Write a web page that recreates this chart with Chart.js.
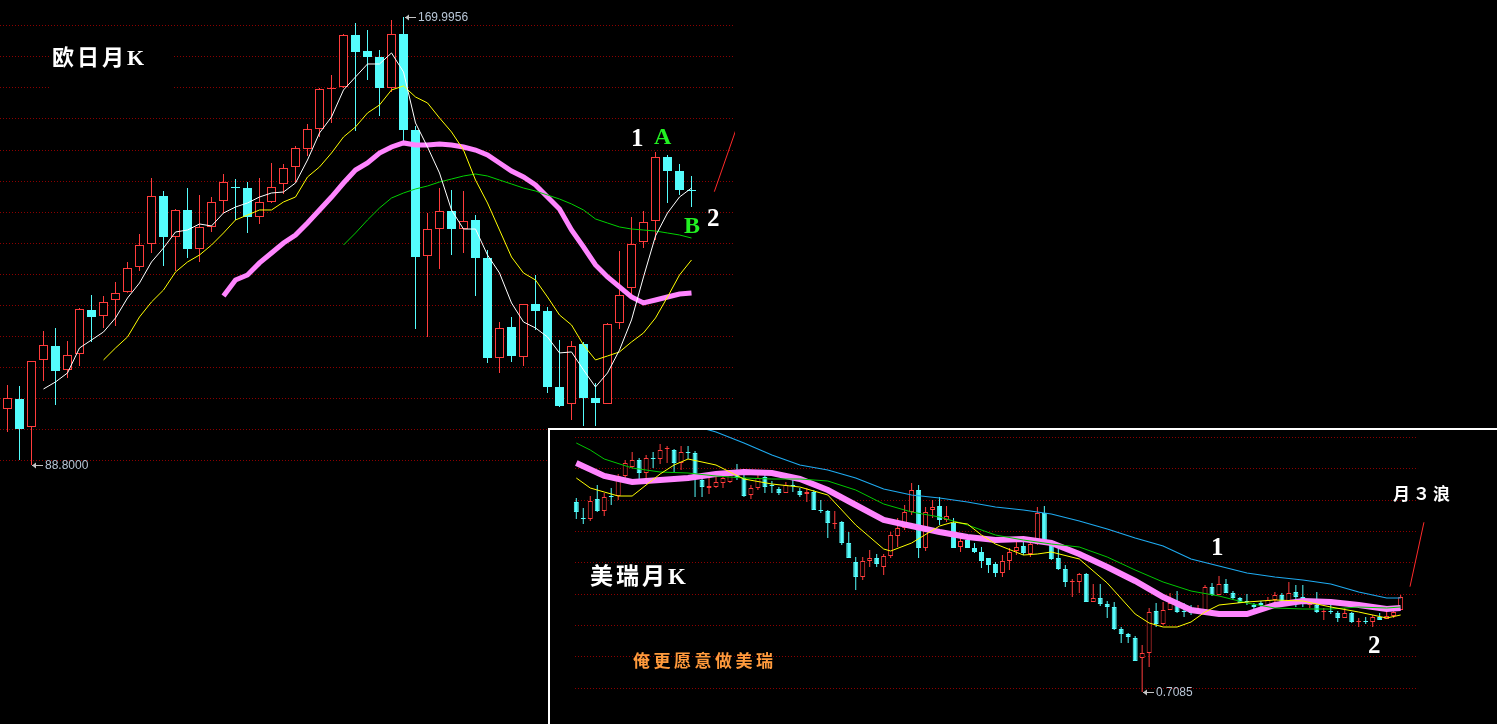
<!DOCTYPE html>
<html>
<head>
<meta charset="utf-8">
<script src="https://cdn.jsdelivr.net/npm/chart.js@4.4.0/dist/chart.umd.min.js"></script>
<style>
  html, body { margin: 0; padding: 0; background: #000; width: 1497px; height: 724px; overflow: hidden; }
  #eurjpy { position: absolute; left: 0; top: 0; }
  #panel { position: absolute; left: 548px; top: 428px; width: 947px; height: 294px;
           border-top: 2px solid #fff; border-left: 2px solid #fff; background: #000; }
  #usdchf { display: block; }
</style>
</head>
<body>
<canvas id="eurjpy" width="735" height="470"></canvas>
<div id="panel"><canvas id="usdchf" width="947" height="294"></canvas></div>
<script>
// ---------- EUR/JPY candles ----------
const eurjpyOpen = [
  98.95, 100.77, 95.69, 107.84, 110.37, 106.03, 108.93, 116.90, 115.81, 118.71,
  120.16, 124.69, 128.86, 137.55, 130.12, 135.02, 127.95, 131.94, 136.65, 139.18,
  139.00, 133.75, 136.47, 139.73, 142.81, 146.08, 149.70, 156.95, 157.31, 166.74,
  163.84, 162.75, 157.13, 166.92, 149.52, 126.68, 131.57, 134.84, 131.57, 133.21,
  126.32, 108.20, 113.82, 108.38, 117.99, 116.72, 102.94, 99.86, 110.74, 100.95,
  99.86, 114.54, 120.88, 129.22, 133.02, 144.62, 142.08, 138.64
];
const eurjpyHigh = [
  103.31, 103.13, 107.66, 113.09, 113.64, 111.28, 117.26, 119.61, 119.43, 121.97,
  125.60, 130.67, 140.82, 138.46, 135.20, 139.00, 137.73, 137.37, 141.54, 140.63,
  140.09, 140.82, 143.53, 143.35, 146.62, 150.61, 157.13, 159.49, 166.92, 168.91,
  167.64, 164.02, 169.46, 169.9956, 150.25, 134.47, 139.00, 138.64, 138.46, 134.11,
  127.77, 114.72, 115.63, 117.99, 123.24, 117.44, 111.46, 111.28, 111.10, 103.67,
  114.54, 127.59, 133.75, 134.84, 145.53, 144.98, 143.35, 141.18
];
const eurjpyLow = [
  94.78, 89.71, 88.80, 104.03, 99.67, 104.58, 106.75, 111.10, 113.64, 114.00,
  120.00, 123.96, 127.23, 124.87, 123.96, 126.32, 125.60, 131.03, 134.47, 133.21,
  130.85, 132.48, 136.29, 137.92, 140.09, 144.80, 148.25, 150.79, 157.13, 149.34,
  158.58, 152.06, 156.41, 147.35, 113.45, 112.00, 124.33, 126.86, 127.23, 119.43,
  107.29, 105.48, 107.48, 106.75, 113.27, 101.86, 99.31, 96.96, 95.87, 95.87,
  99.86, 113.45, 119.43, 128.13, 129.58, 136.29, 137.73, 135.56
];
const eurjpyClose = [
  100.95, 95.32, 107.66, 110.55, 105.84, 108.74, 117.08, 115.63, 118.35, 119.98,
  124.51, 128.67, 137.55, 130.12, 135.02, 127.95, 131.94, 136.47, 140.09, 139.00,
  133.75, 136.47, 139.18, 142.63, 146.26, 149.70, 156.95, 157.13, 166.74, 163.66,
  162.75, 157.13, 166.92, 149.52, 126.50, 131.57, 134.84, 131.57, 133.02, 126.32,
  108.20, 113.64, 108.56, 117.99, 116.72, 102.94, 99.49, 110.37, 100.95, 100.04,
  114.36, 119.61, 128.86, 132.84, 144.62, 142.08, 138.64, 138.46
];
// moving averages (white / yellow / pink / green)
const eurjpyMaWhite = [null, null, null,
  102.58, 103.85, 105.48, 110.01, 111.46, 112.91, 115.45, 119.07, 121.79, 125.60,
  128.13, 131.03, 131.39, 132.48, 132.12, 134.47, 135.56, 136.29, 137.37, 138.10,
  138.28, 139.91, 144.08, 148.98, 151.88, 156.77, 159.13, 161.48, 161.48, 163.48,
  160.03, 150.79, 146.44, 141.72, 135.02, 131.57, 131.57, 126.86, 123.60, 118.17,
  114.72, 113.64, 112.00, 109.11, 109.29, 106.03, 102.94, 105.48, 109.65, 115.09,
  122.88, 130.31, 134.47, 137.37, 139.00
];
const eurjpyMaYellow = [null, null, null, null, null, null, null, null,
  107.84, 110.01, 112.00, 115.63, 118.35, 120.52, 123.78, 125.60, 126.86, 128.67,
  130.85, 133.21, 134.11, 135.02, 135.02, 136.47, 137.37, 141.00, 142.81, 145.35,
  148.25, 150.07, 152.60, 154.05, 156.77, 157.50, 155.50, 154.42, 151.70, 149.16,
  145.89, 140.45, 136.29, 131.39, 126.50, 123.60, 122.33, 119.25, 115.99, 114.18,
  110.55, 107.84, 108.56, 109.29, 111.10, 112.73, 115.45, 119.25, 123.24, 125.96
];
const eurjpyMaPink = [null, null, null, null, null, null, null, null, null, null,
  null, null, null, null, null, null, null, null,
  119.43, 122.33, 123.24, 125.42, 127.23, 129.04, 130.49, 132.66, 135.02, 137.37,
  139.91, 142.26, 143.53, 145.35, 146.44, 147.17, 146.80, 146.80, 146.98, 146.80,
  146.44, 145.89, 144.98, 143.53, 142.08, 141.00, 139.55, 137.37, 135.20, 131.39,
  128.31, 125.05, 122.88, 121.07, 119.25, 118.17, 118.71, 119.25, 119.79, 119.98
];
const eurjpyMaGreen = [null, null, null, null, null, null, null, null, null, null,
  null, null, null, null, null, null, null, null, null, null,
  null, null, null, null, null, null, null, null,
  128.67, 130.85, 133.21, 135.38, 137.19, 138.10, 138.83, 139.37, 140.09, 140.63,
  141.18, 141.54, 141.18, 140.45, 139.73, 139.00, 138.46, 137.73, 137.01, 136.11,
  135.02, 133.39, 132.66, 131.94, 131.57, 131.39, 131.21, 130.85, 130.49, 129.94
];
const eurjpyGrid = [168.51, 162.88, 157.24, 151.61, 145.98, 140.35, 134.71, 129.08,
  123.45, 117.81, 112.18, 106.55, 100.91, 95.28, 89.65];

// ---------- USD/CHF candles ----------
const usdchfOpen = [
  1.1835, 1.1435, 1.1410, 1.1910, 1.1610, 1.1985, 1.1985, 1.2485, 1.2710, 1.2885,
  1.2560, 1.2935, 1.2910, 1.3160, 1.3135, 1.2810, 1.3085, 1.3060, 1.2385, 1.2185,
  1.2210, 1.2310, 1.2335, 1.2585, 1.2435, 1.2010, 1.2185, 1.2460, 1.2260, 1.2160,
  1.2060, 1.2260, 1.2110, 1.2035, 1.2085, 1.1635, 1.1610, 1.1285, 1.1335, 1.0810,
  1.0335, 0.9960, 1.0360, 1.0435, 1.0210, 1.0485, 1.0985, 1.1185, 1.1585, 1.2135,
  1.0685, 1.1635, 1.1735, 1.1385, 1.1310, 1.0710, 1.0885, 1.0685, 1.0585, 1.0435,
  1.0285, 1.0060, 1.0360, 1.0610, 1.0735, 1.0535, 1.0785, 1.1560, 1.0760, 1.0435,
  1.0160, 0.9835, 0.9835, 1.0035, 0.9335, 0.9435, 0.9285, 0.9210, 0.8660, 0.8535,
  0.8435, 0.7935, 0.8060, 0.9110, 0.8785, 0.9135, 0.9360, 0.9110, 0.9085, 0.9085,
  0.9135, 0.9710, 0.9510, 0.9785, 0.9560, 0.9435, 0.9360, 0.9260, 0.9310, 0.9210,
  0.9385, 0.9510, 0.9335, 0.9585, 0.9460, 0.9260, 0.9260, 0.9085, 0.9110, 0.9060,
  0.8935, 0.9060, 0.8835, 0.8860, 0.8835, 0.8960, 0.8910, 0.8985, 0.9135
];
const usdchfHigh = [
  1.1935, 1.1685, 1.1985, 1.2260, 1.2060, 1.2185, 1.2535, 1.2885, 1.3085, 1.2935,
  1.3010, 1.3085, 1.3285, 1.3235, 1.3160, 1.3235, 1.3235, 1.3110, 1.2460, 1.2435,
  1.2585, 1.2535, 1.2585, 1.2785, 1.2510, 1.2260, 1.2510, 1.2510, 1.2360, 1.2210,
  1.2335, 1.2385, 1.2185, 1.2185, 1.2135, 1.1885, 1.1635, 1.1610, 1.1360, 1.1085,
  1.0460, 1.0460, 1.0635, 1.0535, 1.0535, 1.1085, 1.1435, 1.1760, 1.2310, 1.2260,
  1.1710, 1.1885, 1.1960, 1.1735, 1.1435, 1.0935, 1.0935, 1.0810, 1.0710, 1.0435,
  1.0335, 1.0510, 1.0685, 1.0835, 1.0835, 1.0935, 1.1710, 1.1735, 1.0810, 1.0685,
  1.0260, 0.9910, 1.0060, 1.0060, 0.9785, 0.9785, 0.9360, 0.9335, 0.8710, 0.8560,
  0.8485, 0.8260, 0.9185, 0.9310, 0.9335, 0.9560, 0.9610, 0.9310, 0.9260, 0.9260,
  0.9760, 0.9810, 0.9985, 0.9910, 0.9610, 0.9460, 0.9535, 0.9310, 0.9360, 0.9460,
  0.9585, 0.9560, 0.9835, 0.9760, 0.9760, 0.9335, 0.9585, 0.9185, 0.9260, 0.9110,
  0.9185, 0.9085, 0.8935, 0.8960, 0.9010, 0.9060, 0.9085, 0.9135, 0.9510
];
const usdchfLow = [
  1.1410, 1.1285, 1.1360, 1.1585, 1.1485, 1.1760, 1.1885, 1.2435, 1.2685, 1.2385,
  1.2385, 1.2685, 1.2785, 1.2810, 1.2585, 1.2635, 1.2910, 1.1960, 1.1960, 1.2035,
  1.2185, 1.2185, 1.2310, 1.2385, 1.1960, 1.1910, 1.2135, 1.2060, 1.2060, 1.2010,
  1.2060, 1.2085, 1.1960, 1.1835, 1.1635, 1.1560, 1.0935, 1.1160, 1.0760, 1.0435,
  0.9635, 0.9885, 1.0210, 1.0210, 1.0010, 1.0435, 1.0710, 1.1135, 1.1510, 1.0435,
  1.0610, 1.1435, 1.1260, 1.1335, 1.0685, 1.0585, 1.0685, 1.0560, 1.0185, 1.0060,
  0.9960, 0.9960, 1.0135, 1.0510, 1.0510, 1.0460, 1.0760, 1.0760, 1.0385, 1.0135,
  0.9710, 0.9460, 0.9560, 0.9335, 0.9335, 0.9235, 0.8935, 0.8635, 0.8310, 0.8310,
  0.7860, 0.7085, 0.7710, 0.8710, 0.8760, 0.9135, 0.9060, 0.8960, 0.9010, 0.9035,
  0.9135, 0.9485, 0.9510, 0.9560, 0.9385, 0.9310, 0.9260, 0.9135, 0.9185, 0.9160,
  0.9335, 0.9310, 0.9310, 0.9210, 0.9210, 0.9185, 0.9060, 0.8885, 0.9035, 0.8835,
  0.8935, 0.8810, 0.8710, 0.8785, 0.8710, 0.8885, 0.8910, 0.8935, 0.9135
];
const usdchfClose = [
  1.1585, 1.1410, 1.1860, 1.1610, 1.1960, 1.1960, 1.2485, 1.2810, 1.2885, 1.2560,
  1.2935, 1.2910, 1.3135, 1.3185, 1.2810, 1.3085, 1.3060, 1.2460, 1.2210, 1.2235,
  1.2335, 1.2435, 1.2510, 1.2435, 1.1985, 1.2185, 1.2435, 1.2210, 1.2235, 1.2060,
  1.2260, 1.2235, 1.2010, 1.2085, 1.1635, 1.1610, 1.1310, 1.1310, 1.0810, 1.0435,
  0.9960, 1.0360, 1.0435, 1.0285, 1.0485, 1.1010, 1.1185, 1.1585, 1.2135, 1.0685,
  1.1585, 1.1710, 1.1385, 1.1485, 1.0685, 1.0860, 1.0685, 1.0585, 1.0360, 1.0260,
  1.0060, 1.0360, 1.0585, 1.0710, 1.0560, 1.0785, 1.1560, 1.0810, 1.0410, 1.0160,
  0.9835, 0.9860, 1.0035, 0.9335, 0.9435, 0.9285, 0.9210, 0.8660, 0.8535, 0.8460,
  0.7860, 0.8060, 0.9085, 0.8785, 0.9135, 0.9310, 0.9085, 0.9085, 0.9060, 0.9135,
  0.9710, 0.9510, 0.9785, 0.9560, 0.9435, 0.9310, 0.9335, 0.9210, 0.9260, 0.9385,
  0.9510, 0.9310, 0.9560, 0.9460, 0.9310, 0.9285, 0.9085, 0.9110, 0.9085, 0.8935,
  0.9060, 0.8835, 0.8860, 0.8835, 0.8960, 0.8885, 0.8985, 0.9085, 0.9460
];
// moving averages, read at the listed bar numbers
const usdchfMaYellowAt = [0, 2, 4, 6, 8, 12, 14, 16, 20, 24, 28, 32, 36, 40, 44, 45, 48, 52, 54, 56,
  58, 60, 64, 66, 68, 72, 76, 80, 82, 84, 86, 88, 90, 92, 96, 100, 104, 108, 112, 116, 118];
const usdchfMaYellow = [1.2435, 1.2185, 1.2085, 1.1985, 1.1985, 1.2535, 1.2760, 1.2910, 1.2760, 1.2410,
  1.2285, 1.2210, 1.2010, 1.1260, 1.0660, 1.0610, 1.0810, 1.1235, 1.1335, 1.1285,
  1.1010, 1.0785, 1.0510, 1.0535, 1.0585, 1.0410, 0.9810, 0.9035, 0.8810, 0.8710,
  0.8710, 0.8835, 0.9085, 0.9260, 0.9335, 0.9385, 0.9360, 0.9210, 0.9085, 0.8935, 0.9010];
const usdchfMaGreenAt = [0, 2, 4, 8, 12, 16, 20, 24, 28, 32, 36, 40, 44, 48, 52, 56, 60, 64, 68, 72,
  76, 80, 84, 88, 92, 96, 100, 104, 108, 112, 116, 118];
const usdchfMaGreen = [1.3310, 1.3135, 1.2910, 1.2685, 1.2585, 1.2560, 1.2485, 1.2435, 1.2410, 1.2410,
  1.2360, 1.2135, 1.1785, 1.1585, 1.1460, 1.1260, 1.1010, 1.0885, 1.0785, 1.0710,
  1.0460, 1.0135, 0.9835, 0.9610, 0.9485, 0.9310, 0.9185, 0.9160, 0.9160, 0.9210, 0.9185, 0.9210];
const usdchfMaPinkAt = [0, 4, 8, 12, 16, 20, 24, 28, 32, 36, 40, 44, 48, 52, 56, 60, 64, 68, 72,
  76, 80, 84, 88, 92, 96, 100, 104, 108, 112, 116, 118];
const usdchfMaPink = [1.2810, 1.2485, 1.2335, 1.2385, 1.2435, 1.2535, 1.2585, 1.2560, 1.2410, 1.2135,
  1.1760, 1.1385, 1.1235, 1.1085, 1.0960, 1.0885, 1.0910, 1.0810, 1.0535, 1.0210,
  0.9860, 0.9460, 0.9135, 0.9035, 0.9035, 0.9260, 0.9360, 0.9335, 0.9260, 0.9160, 0.9185];
const usdchfMaBlueAt = [16, 20, 24, 28, 32, 36, 40, 44, 48, 52, 56, 60, 64, 68, 72, 76, 80, 84, 88,
  92, 96, 100, 104, 108, 112, 116, 118];
const usdchfMaBlue = [1.3785, 1.3585, 1.3310, 1.3010, 1.2760, 1.2635, 1.2435, 1.2160, 1.2010, 1.1935,
  1.1835, 1.1710, 1.1635, 1.1535, 1.1360, 1.1160, 1.0935, 1.0735, 1.0410,
  1.0235, 1.0060, 0.9960, 0.9885, 0.9785, 0.9585, 0.9435, 0.9435];
const usdchfGrid = [1.3460, 1.2677, 1.1893, 1.1110, 1.0326, 0.9543, 0.8759, 0.7976, 0.7192];

// ---------- styling ----------
const UP = '#ff3c3c', DOWN = '#54fcfc', GRID = '#8c0000';
const SERIF = '"Liberation Serif", "Noto Sans CJK SC", serif';
const CJK = '"Liberation Serif", "Noto Sans CJK SC", sans-serif';

function barNames(n) { return Array.from({ length: n }, (_, i) => String(i + 1)); }
function spread(n, at, vals) {
  const out = new Array(n).fill(null);
  at.forEach((k, i) => { out[k] = vals[i]; });
  return out;
}

function candleSets(o, h, l, c, bodyWidth) {
  const up = c.map((v, i) => v >= o[i]);
  return [
    { type: 'bar', data: l.map((v, i) => [v, h[i]]), backgroundColor: up.map(u => u ? UP : DOWN),
      barThickness: 1, grouped: false, inflateAmount: 0, order: 9 },
    { type: 'bar', data: o.map((v, i) => [v, c[i]]), backgroundColor: up.map(u => u ? '#000' : DOWN),
      borderColor: up.map(u => u ? UP : DOWN), borderWidth: 1, borderSkipped: false,
      barThickness: bodyWidth, minBarLength: 1, grouped: false, inflateAmount: 0, order: 8 }
  ];
}
function lineSet(data, color, width, order) {
  return { type: 'line', data, borderColor: color, borderWidth: width, pointRadius: 0,
           tension: 0, spanGaps: true, fill: false, order };
}

function decoPlugin(cfg) {
  return {
    id: 'deco',
    beforeDatasetsDraw(chart) {
      const { ctx, chartArea, scales } = chart;
      ctx.save();
      ctx.strokeStyle = GRID;
      ctx.lineWidth = 1;
      ctx.setLineDash([1, 2]);
      for (const v of cfg.grid) {
        const y = Math.round(scales.y.getPixelForValue(v)) + 0.5;
        ctx.beginPath();
        ctx.moveTo(cfg.gridFrom, y);
        ctx.lineTo(chartArea.right, y);
        ctx.stroke();
      }
      ctx.setLineDash([]);
      if (cfg.mask) { ctx.fillStyle = '#000'; ctx.fillRect(...cfg.mask); }
      ctx.restore();
    },
    afterDatasetsDraw(chart) {
      const { ctx, scales } = chart;
      ctx.save();
      // extreme price tags
      for (const t of cfg.tags) {
        const x = Math.round(scales.x.getPixelForValue(t.index));
        const y = Math.round(scales.y.getPixelForValue(t.value)) + 0.5;
        ctx.strokeStyle = '#c4c4c4';
        ctx.fillStyle = '#c4c4c4';
        ctx.lineWidth = 1;
        ctx.beginPath(); ctx.moveTo(x + 1, y); ctx.lineTo(x + 12, y); ctx.stroke();
        ctx.beginPath(); ctx.moveTo(x + 1, y); ctx.lineTo(x + 5, y - 3); ctx.lineTo(x + 5, y + 3);
        ctx.closePath(); ctx.fill();
        ctx.font = '12px "Liberation Sans", Arial, sans-serif';
        ctx.fillStyle = '#b8c6d6';
        ctx.textBaseline = 'middle';
        ctx.textAlign = 'left';
        ctx.fillText(t.value.toFixed(4), x + 14, y + 0.5);
      }
      // wave strokes (bar number, price) -> (bar number, price)
      for (const s of cfg.strokes) {
        ctx.strokeStyle = '#ff2a2a';
        ctx.lineWidth = 1;
        ctx.beginPath();
        ctx.moveTo(scales.x.getPixelForValue(s[0]), scales.y.getPixelForValue(s[1]));
        ctx.lineTo(scales.x.getPixelForValue(s[2]), scales.y.getPixelForValue(s[3]));
        ctx.stroke();
      }
      // notes
      for (const n of cfg.notes) {
        ctx.font = n.font;
        ctx.fillStyle = n.color;
        ctx.letterSpacing = n.spacing || '0px';
        ctx.textBaseline = 'alphabetic';
        ctx.textAlign = 'left';
        ctx.fillText(n.text, n.x, n.y);
      }
      ctx.restore();
    }
  };
}

function baseOptions(min, max, padding) {
  return {
    responsive: false, animation: false, devicePixelRatio: 1, events: [],
    layout: { padding },
    plugins: { legend: { display: false }, tooltip: { enabled: false } },
    scales: {
      x: { type: 'category', display: false, offset: true },
      y: { type: 'linear', display: false, min, max }
    }
  };
}

// ---------- EUR/JPY chart ----------
const eurjpySlots = 61;
const eurjpyHiAt = eurjpyHigh.indexOf(Math.max(...eurjpyHigh));
const eurjpyLoAt = eurjpyLow.indexOf(Math.min(...eurjpyLow));
new Chart(document.getElementById('eurjpy'), {
  type: 'bar',
  data: {
    labels: barNames(eurjpySlots),
    datasets: [
      lineSet(eurjpyMaWhite, '#ffffff', 1, 0),
      lineSet(eurjpyMaYellow, '#ffff00', 1, 1),
      lineSet(eurjpyMaGreen, '#00d200', 1, 2),
      lineSet(eurjpyMaPink, '#ff85ff', 5, 3),
      ...candleSets(eurjpyOpen, eurjpyHigh, eurjpyLow, eurjpyClose, 9)
    ]
  },
  options: baseOptions(87.894, 173.077, { left: 1.5, right: 1.5, top: 0, bottom: 0 }),
  plugins: [decoPlugin({
    grid: eurjpyGrid, gridFrom: 0, mask: [50, 32, 123, 76],
    tags: [{ index: eurjpyHiAt, value: eurjpyHigh[eurjpyHiAt] },
           { index: eurjpyLoAt, value: eurjpyLow[eurjpyLoAt] }],
    strokes: [[58.9, 138.33, 61.29, 153.23]],
    notes: [
      { text: '欧日月K', x: 52, y: 65, font: 'bold 22px ' + CJK, color: '#ffffff', spacing: '3px' },
      { text: '1', x: 631, y: 146, font: 'bold 25px ' + SERIF, color: '#ffffff' },
      { text: 'A', x: 654, y: 144, font: 'bold 24px ' + SERIF, color: '#22f022' },
      { text: 'B', x: 684, y: 233, font: 'bold 24px ' + SERIF, color: '#22f022' },
      { text: '2', x: 707, y: 226, font: 'bold 25px ' + SERIF, color: '#ffffff' },
      { text: '月３浪', x: 740, y: 84, font: 'bold 16px ' + CJK, color: '#ffffff', spacing: '3px' }
    ]
  })]
});

// ---------- USD/CHF chart ----------
const usdchfSlots = 121;
const n2 = usdchfOpen.length;
const usdchfLoAt = usdchfLow.indexOf(Math.min(...usdchfLow));
new Chart(document.getElementById('usdchf'), {
  type: 'bar',
  data: {
    labels: barNames(usdchfSlots),
    datasets: [
      lineSet(spread(n2, usdchfMaYellowAt, usdchfMaYellow), '#ffff00', 1, 0),
      lineSet(spread(n2, usdchfMaGreenAt, usdchfMaGreen), '#00c800', 1, 1),
      lineSet(spread(n2, usdchfMaBlueAt, usdchfMaBlue), '#1eaaf0', 1.2, 2),
      lineSet(spread(n2, usdchfMaPinkAt, usdchfMaPink), '#ff85ff', 6, 3),
      ...candleSets(usdchfOpen, usdchfHigh, usdchfLow, usdchfClose, 5)
    ]
  },
  options: baseOptions(0.6285, 1.3635, { left: 22.8, right: 78.9, top: 0, bottom: 0 }),
  plugins: [decoPlugin({
    grid: usdchfGrid, gridFrom: 25,
    tags: [{ index: usdchfLoAt, value: usdchfLow[usdchfLoAt] }],
    strokes: [[119.34, 0.9718, 121.34, 1.1328]],
    notes: [
      { text: '美瑞月K', x: 40, y: 153.5, font: 'bold 23px ' + CJK, color: '#ffffff', spacing: '3px' },
      { text: '俺更愿意做美瑞', x: 83, y: 236.5, font: 'bold 17px ' + CJK, color: '#ff9a3c', spacing: '3.5px' },
      { text: '1', x: 661, y: 125, font: 'bold 25px ' + SERIF, color: '#ffffff' },
      { text: '2', x: 818, y: 223, font: 'bold 25px ' + SERIF, color: '#ffffff' },
      { text: '月３浪', x: 843, y: 70, font: 'bold 17px ' + CJK, color: '#ffffff', spacing: '3px' }
    ]
  })]
});
</script>
</body>
</html>
